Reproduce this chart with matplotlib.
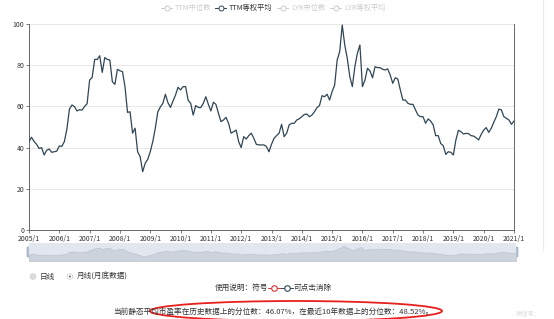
import matplotlib
matplotlib.use("Agg")
import matplotlib.pyplot as plt
from matplotlib.patches import Ellipse, Circle, FancyBboxPatch
import numpy as np

plt.rcParams['font.family'] = ['Noto Sans CJK SC', 'DejaVu Sans']

# month-end TTM equal-weight average PE
pe_2005 = [42.9, 45, 43, 41.6, 39.6, 40, 36.4, 38.7, 39.3, 37.7, 38, 38.3]
pe_2006 = [40.8, 40.6, 42.9, 49, 58.7, 60.7, 59.9, 57.8, 58.4, 58.2, 60, 61.3]
pe_2007 = [72.8, 74, 82.8, 82.8, 84.6, 76.5, 83.7, 82.8, 82.5, 72, 70.7, 78]
pe_2008 = [77.3, 76.9, 69.6, 57.1, 57.4, 47, 49.4, 38, 35.6, 28.3, 32.4, 34.3]
pe_2009 = [38, 42.9, 49.4, 57.4, 59.7, 61.5, 65.9, 61.8, 59.5, 62.6, 65.5, 69.3]
pe_2010 = [68, 69.6, 69.6, 63, 61.5, 55.8, 60.4, 59.5, 59.4, 61.5, 64.7, 61]
pe_2011 = [57.8, 62, 61, 56.6, 52.6, 53.4, 54.7, 51.8, 47, 47.7, 48.5, 42.9]
pe_2012 = [40, 45.3, 44.2, 45.8, 47, 44.5, 41.6, 41.3, 41.3, 41.3, 40.5, 38]
pe_2013 = [41.6, 44.5, 45.8, 47, 51.3, 45.3, 47, 51, 51.8, 51.8, 53.4, 54]
pe_2014 = [55, 56.1, 56.3, 55, 55.8, 57.4, 59.4, 60.4, 65.2, 64.7, 65.9, 63.1]
pe_2015 = [67.2, 70.4, 82.5, 86.6, 99.5, 89.8, 83.3, 74.4, 69.6, 79.3, 85.8, 89.8]
pe_2016 = [69.6, 72.8, 78.5, 77.2, 73.9, 79.3, 78.8, 78.8, 78, 77.7, 78.2, 75.2]
pe_2017 = [71.2, 73.9, 73.3, 68, 63.1, 63.1, 61.5, 61, 61, 58.3, 55.8, 55]
pe_2018 = [55, 51.8, 53.9, 52.9, 51, 45.8, 45.8, 42, 40.9, 36.7, 38, 37.7]
pe_2019 = [36.4, 43.7, 48.4, 47.7, 46.6, 46.9, 46.8, 45.8, 45.6, 44.8, 43.7, 46.4]
pe_2020 = [48.5, 49.7, 47.4, 49.4, 52.3, 55, 58.7, 58.3, 55, 54.2, 53.4, 51.3]
pe_2021 = [52.9]

ttm_avg = (pe_2005 + pe_2006 + pe_2007 + pe_2008 + pe_2009 + pe_2010 + pe_2011
           + pe_2012 + pe_2013 + pe_2014 + pe_2015 + pe_2016 + pe_2017 + pe_2018
           + pe_2019 + pe_2020 + pe_2021)

years = list(range(2005, 2022))
tick_labels = [f"{y}/1" for y in years]
y_ticks = [0, 20, 40, 60, 80, 100]
legend_names = ["TTM中位数", "TTM等权平均", "LYR中位数", "LYR等权平均"]
legend_active = [False, True, False, False]
note_text = "当前静态平均市盈率在历史数据上的分位数：46.07%，在最近10年数据上的分位数：48.52%。"

W, H = 554, 319
LINE = '#2f4554'
fig = plt.figure(figsize=(W / 100, H / 100), dpi=100)


def box(l, t, r, b):
    return [l / W, 1 - b / H, (r - l) / W, (b - t) / H]


# page overlay in pixel coords
pg = fig.add_axes([0, 0, 1, 1])
pg.set_xlim(0, W)
pg.set_ylim(H, 0)
pg.axis('off')
pg.plot([543, 543], [0, 250], color='#ececec', lw=0.8)

# main chart
ax = fig.add_axes(box(29, 24, 514, 230))
x = np.arange(len(ttm_avg))
ax.plot(x, ttm_avg, color=LINE, lw=0.9, zorder=3)
ax.set_xlim(0, len(ttm_avg) - 1)
ax.set_ylim(0, 100)
ax.set_xticks(np.arange(0, len(ttm_avg), 12))
ax.set_xticklabels(tick_labels)
ax.set_yticks(y_ticks)
ax.grid(axis='y', color='#e3e3e3', lw=0.6)
ax.set_axisbelow(True)
ax.spines['top'].set_visible(False)
for s in ['left', 'bottom', 'right']:
    ax.spines[s].set_color('#666666')
    ax.spines[s].set_linewidth(0.7)
ax.tick_params(labelsize=5, colors='#666666', labelcolor='#333333',
               length=2.5, width=0.6, pad=1)
pg.text(333, 163, "legulegu.com", fontsize=7.5, color='#e2e2e2',
        ha='center', va='center')

# data zoom slider
sl = fig.add_axes(box(29, 243, 516, 261))
sl.set_facecolor('#e2e7ef')
sl.fill_between(x, ttm_avg, -5, color='#ccd3dd', lw=0.5, edgecolor='#bcc5d1')
sl.set_xlim(0, len(ttm_avg) - 1)
sl.set_ylim(-2, 117)
sl.set_xticks([])
sl.set_yticks([])
for s in sl.spines.values():
    s.set_visible(False)
for hx in (29, 516):
    pg.add_patch(FancyBboxPatch((hx - 2, 247), 4, 10, boxstyle="round,pad=0,rounding_size=1",
                                fc='#b4c1d3', ec='#9aabc2', lw=0.5, zorder=5))

# legend
leg_x = [161, 215, 277, 330]
for lx, name, act in zip(leg_x, legend_names, legend_active):
    c = LINE if act else '#cccccc'
    tc = '#333333' if act else '#cccccc'
    pg.plot([lx, lx + 11], [8, 8], color=c, lw=0.7)
    pg.plot([lx + 5.5], [8], marker='o', ms=3.6, mfc='white', mec=c, mew=0.7)
    pg.text(lx + 14, 8, name, fontsize=5.2, color=tc, ha='left', va='center')

# radio buttons
pg.add_patch(Circle((33, 276.5), 2.8, fc='#dddddd', ec='#c8c8c8', lw=0.5))
pg.text(40, 276.5, "日线", fontsize=5.5, color='#333333', va='center')
pg.add_patch(Circle((70, 276.5), 2.8, fc='white', ec='#c8c8c8', lw=0.5))
pg.add_patch(Circle((70, 276.5), 1.0, fc='#666666', ec='none'))
pg.text(77, 276.5, "月线(月底数据)", fontsize=5.5, color='#333333', va='center')

# usage hint
pg.text(215, 288, "使用说明：符号", fontsize=5.5, color='#333333', va='center')
for sx, c in ((268, '#e03030'), (281, LINE)):
    pg.plot([sx, sx + 12], [288, 288], color=c, lw=0.7)
    pg.plot([sx + 6], [288], marker='o', ms=4, mfc='white', mec=c, mew=0.8)
pg.text(294, 288, "可点击消除", fontsize=5.5, color='#333333', va='center')

# percentile note
pg.text(273, 311.5, note_text, fontsize=5.5, color='#333333', ha='center', va='center')
pg.add_patch(Ellipse((296, 311), 292, 20, fc='none', ec='#e8201c', lw=1.3))
pg.text(516, 314, "微信号：", fontsize=4.5, color='#dddddd', va='center')

fig.savefig("out.png", dpi=100)
